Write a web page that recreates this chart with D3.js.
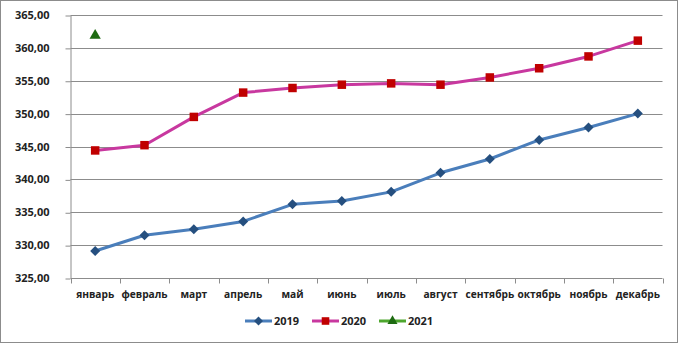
<!DOCTYPE html>
<html><head><meta charset="utf-8">
<script src="https://cdn.jsdelivr.net/npm/d3@7"></script>
<style>body{margin:0;background:#fff}svg{display:block}text{font-family:"Open Sans",sans-serif;font-weight:bold;font-size:11px;fill:#222}</style>
</head><body><svg id="c" width="678" height="343"></svg>
<script>
const months = ["январь","февраль","март","апрель","май","июнь","июль","август","сентябрь","октябрь","ноябрь","декабрь"];
const v2019 = [329.1,331.5,332.4,333.6,336.2,336.7,338.1,341.0,343.1,346.0,347.9,350.0];
const v2020 = [344.4,345.2,349.5,353.2,353.9,354.4,354.6,354.4,355.5,356.9,358.7,361.1];
const v2021 = [361.9];
const yTicks = [325,330,335,340,345,350,355,360,365];
const seriesNames = ["2019","2020","2021"];

const svg = d3.select("#c");
svg.append("rect").attr("x",0.5).attr("y",0.5).attr("width",677).attr("height",342)
  .attr("fill","#fff").attr("stroke","#8c8c8c").attr("stroke-width",1);

const pL=70.5, pR=662.5, pT=15, pB=278;
const x = d3.scaleBand().domain(months).range([pL,pR]);
const y = d3.scaleLinear().domain([325,365]).range([pB,pT]);
const fmt = d => d3.format(".2f")(d).replace(".",",");

// gridlines
svg.append("g").selectAll("line").data(yTicks.filter(t=>t>325)).join("line")
  .attr("x1",pL).attr("x2",pR).attr("y1",d=>Math.round(y(d))+0.5).attr("y2",d=>Math.round(y(d))+0.5)
  .attr("stroke","#8c8c8c").attr("stroke-width",1);

// y axis
const ya = svg.append("g").attr("transform",`translate(${pL},0)`)
  .call(d3.axisLeft(y).tickValues(yTicks).tickFormat(fmt).tickSize(5).tickSizeOuter(0));
ya.select(".domain").attr("stroke","#8c8c8c");
ya.selectAll(".tick line").attr("stroke","#8c8c8c").attr("transform","translate(0,0.5)");
ya.selectAll("text").attr("x",-21).style("font-family","Open Sans").style("font-size","11px").attr("fill","#222");

// x axis
const xg = svg.append("g").attr("transform",`translate(0,${Math.round(pB)+0.5})`);
xg.append("line").attr("x1",pL).attr("x2",pR).attr("stroke","#8c8c8c");
xg.selectAll("line.t").data(d3.range(months.length+1)).join("line").attr("class","t")
  .attr("x1",i=>Math.round(pL+i*x.bandwidth())+0.5).attr("x2",i=>Math.round(pL+i*x.bandwidth())+0.5)
  .attr("y1",0).attr("y2",5).attr("stroke","#8c8c8c");
xg.selectAll("text").data(months).join("text")
  .attr("x",d=>x(d)+x.bandwidth()/2).attr("y",19).attr("text-anchor","middle")
  .style("font-size","10.2px").text(d=>d);

const cx = i => x(months[i]) + x.bandwidth()/2;
const line = d3.line().x((d,i)=>cx(i)).y(d=>y(d));

const styles = [
  {data:v2019, line:"#4a7ebb", mark:"#254f7f", sym:d3.symbolSquare, size:50, rot:45},
  {data:v2020, line:"#c8389f", mark:"#c00000", sym:d3.symbolSquare, size:72, rot:0},
  {data:v2021, line:"#4ea72e", mark:"#1e6b12", sym:d3.symbolTriangle, size:55, rot:0}
];
styles.forEach(s=>{
  svg.append("path").datum(s.data).attr("d",line).attr("fill","none")
    .attr("stroke",s.line).attr("stroke-width",3).attr("stroke-linejoin","round");
  svg.append("g").selectAll("path").data(s.data).join("path")
    .attr("transform",(d,i)=>`translate(${cx(i)},${y(d)}) rotate(${s.rot})`)
    .attr("d",d3.symbol().type(s.sym).size(s.size)).attr("fill",s.mark);
});

// legend
const legX = [245,312,379];
const lg = svg.append("g");
styles.forEach((s,i)=>{
  const g = lg.append("g").attr("transform",`translate(${legX[i]},321)`);
  g.append("line").attr("x1",0).attr("x2",27).attr("stroke",s.line).attr("stroke-width",3);
  g.append("path").attr("transform",`translate(13.5,0) rotate(${s.rot})`).attr("d",d3.symbol().type(s.sym).size(s.size*0.8)).attr("fill",s.mark);
  g.append("text").attr("x",29).attr("y",4).text(seriesNames[i]);
});
</script></body></html>
